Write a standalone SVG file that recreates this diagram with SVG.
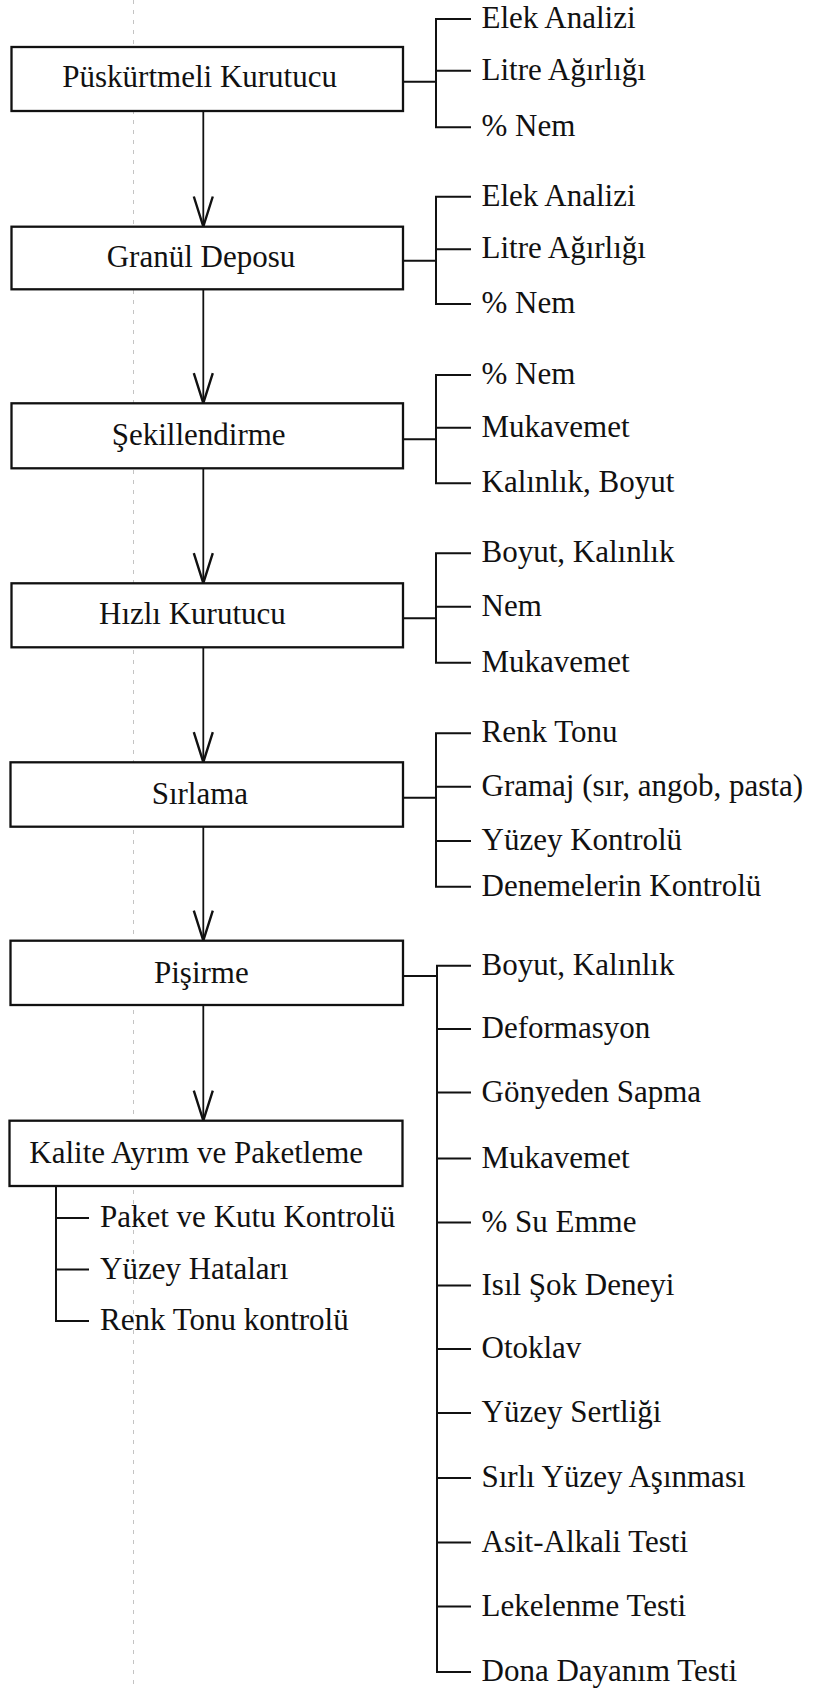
<svg xmlns="http://www.w3.org/2000/svg" width="818" height="1689" viewBox="0 0 818 1689">
  <style>
    .box{fill:#fff;stroke:#111;stroke-width:2.3}
    .lbl{font-family:"Liberation Serif","Times New Roman",serif;font-size:31px;fill:#111}
    .flow{stroke:#111;stroke-width:1.8;fill:none}
    .br{stroke:#111;stroke-width:2;fill:none}
    .guide{stroke:#bdbdbd;stroke-width:0.9;stroke-dasharray:4 6;fill:none}
  </style>
  <defs>
    <marker id="vee" viewBox="-32 -12 34 24" refX="0" refY="0" markerUnits="userSpaceOnUse" markerWidth="34" markerHeight="24" orient="auto">
      <path d="M-30,-9.5 L0,0 L-30,9.5" fill="none" stroke="#111" stroke-width="2.4"/>
    </marker>
  </defs>
  <rect width="818" height="1689" fill="#fff"/>

  <!-- faint fold guide line -->
  <line class="guide" x1="133.5" y1="0" x2="133.5" y2="1689"/>

  <!-- connectors: process flow and check-list brackets -->
  <g id="connectors">
    <line class="flow" x1="203.3" y1="111" x2="203.3" y2="226.5" marker-end="url(#vee)"/>
    <line class="flow" x1="203.3" y1="289.3" x2="203.3" y2="403.2" marker-end="url(#vee)"/>
    <line class="flow" x1="203.3" y1="468.3" x2="203.3" y2="583.2" marker-end="url(#vee)"/>
    <line class="flow" x1="203.3" y1="647.3" x2="203.3" y2="762.2" marker-end="url(#vee)"/>
    <line class="flow" x1="203.3" y1="826.7" x2="203.3" y2="940.6" marker-end="url(#vee)"/>
    <line class="flow" x1="203.3" y1="1005" x2="203.3" y2="1120.6" marker-end="url(#vee)"/>

    <path class="br" d="M403,81.7 H436 M471,19 H436 V127.3 H471 M436,70.7 H471"/>
    <path class="br" d="M403,260.7 H436 M471,196.7 H436 V304 H471 M436,249.3 H471"/>
    <path class="br" d="M403,439.3 H436 M471,375 H436 V483.3 H471 M436,427.7 H471"/>
    <path class="br" d="M403,618.3 H436 M471,553.3 H436 V662.7 H471 M436,606.7 H471"/>
    <path class="br" d="M403,797.7 H436 M471,733.3 H436 V886.7 H471 M436,786.7 H471 M436,841 H471"/>
    <path class="br" d="M403,976 H437 M471,965.7 H437 V1672 H471 M437,1029 H471 M437,1092.5 H471 M437,1158.5 H471 M437,1222.5 H471 M437,1285.5 H471 M437,1349 H471 M437,1413 H471 M437,1478 H471 M437,1542.5 H471 M437,1606.5 H471"/>
    <path class="br" d="M56,1186 V1321 H89 M56,1218 H89 M56,1269.5 H89"/>
  </g>

  <g id="puskurtmeli-kurutucu">
    <rect class="box" x="11.5" y="47" width="391.5" height="64"/>
    <text class="lbl" x="62.3" y="87.3">Püskürtmeli Kurutucu</text>
    <text class="lbl" x="481.5" y="28">Elek Analizi</text>
    <text class="lbl" x="481.5" y="79.7">Litre Ağırlığı</text>
    <text class="lbl" x="481.5" y="136.3">% Nem</text>
  </g>

  <g id="granul-deposu">
    <rect class="box" x="11.5" y="226.7" width="391.5" height="62.6"/>
    <text class="lbl" x="106.7" y="266.7">Granül Deposu</text>
    <text class="lbl" x="481.5" y="205.7">Elek Analizi</text>
    <text class="lbl" x="481.5" y="258.3">Litre Ağırlığı</text>
    <text class="lbl" x="481.5" y="313">% Nem</text>
  </g>

  <g id="sekillendirme">
    <rect class="box" x="11.5" y="403.3" width="391.5" height="65"/>
    <text class="lbl" x="111.7" y="445">Şekillendirme</text>
    <text class="lbl" x="481.5" y="384">% Nem</text>
    <text class="lbl" x="481.5" y="436.7">Mukavemet</text>
    <text class="lbl" x="481.5" y="492.3">Kalınlık, Boyut</text>
  </g>

  <g id="hizli-kurutucu">
    <rect class="box" x="11.5" y="583.3" width="391.5" height="64"/>
    <text class="lbl" x="99" y="624">Hızlı Kurutucu</text>
    <text class="lbl" x="481.5" y="562.3">Boyut, Kalınlık</text>
    <text class="lbl" x="481.5" y="615.7">Nem</text>
    <text class="lbl" x="481.5" y="671.7">Mukavemet</text>
  </g>

  <g id="sirlama">
    <rect class="box" x="10.5" y="762.3" width="392.5" height="64.4"/>
    <text class="lbl" x="151.7" y="804">Sırlama</text>
    <text class="lbl" x="481.5" y="742.3">Renk Tonu</text>
    <text class="lbl" x="481.5" y="795.7">Gramaj (sır, angob, pasta)</text>
    <text class="lbl" x="481.5" y="850">Yüzey Kontrolü</text>
    <text class="lbl" x="481.5" y="895.7">Denemelerin Kontrolü</text>
  </g>

  <g id="pisirme">
    <rect class="box" x="10.5" y="940.7" width="392.5" height="64.3"/>
    <text class="lbl" x="154" y="983.3">Pişirme</text>
    <text class="lbl" x="481.5" y="974.7">Boyut, Kalınlık</text>
    <text class="lbl" x="481.5" y="1038">Deformasyon</text>
    <text class="lbl" x="481.5" y="1101.5">Gönyeden Sapma</text>
    <text class="lbl" x="481.5" y="1167.5">Mukavemet</text>
    <text class="lbl" x="481.5" y="1231.5">% Su Emme</text>
    <text class="lbl" x="481.5" y="1294.5">Isıl Şok Deneyi</text>
    <text class="lbl" x="481.5" y="1358">Otoklav</text>
    <text class="lbl" x="481.5" y="1422">Yüzey Sertliği</text>
    <text class="lbl" x="481.5" y="1487">Sırlı Yüzey Aşınması</text>
    <text class="lbl" x="481.5" y="1551.5">Asit-Alkali Testi</text>
    <text class="lbl" x="481.5" y="1615.5">Lekelenme Testi</text>
    <text class="lbl" x="481.5" y="1681">Dona Dayanım Testi</text>
  </g>

  <g id="kalite-ayrim-paketleme">
    <rect class="box" x="9.5" y="1120.7" width="393" height="65.3"/>
    <text class="lbl" x="29.3" y="1163.3">Kalite Ayrım ve Paketleme</text>
    <text class="lbl" x="100" y="1227">Paket ve Kutu Kontrolü</text>
    <text class="lbl" x="100" y="1278.5">Yüzey Hataları</text>
    <text class="lbl" x="100" y="1330">Renk Tonu kontrolü</text>
  </g>
</svg>
